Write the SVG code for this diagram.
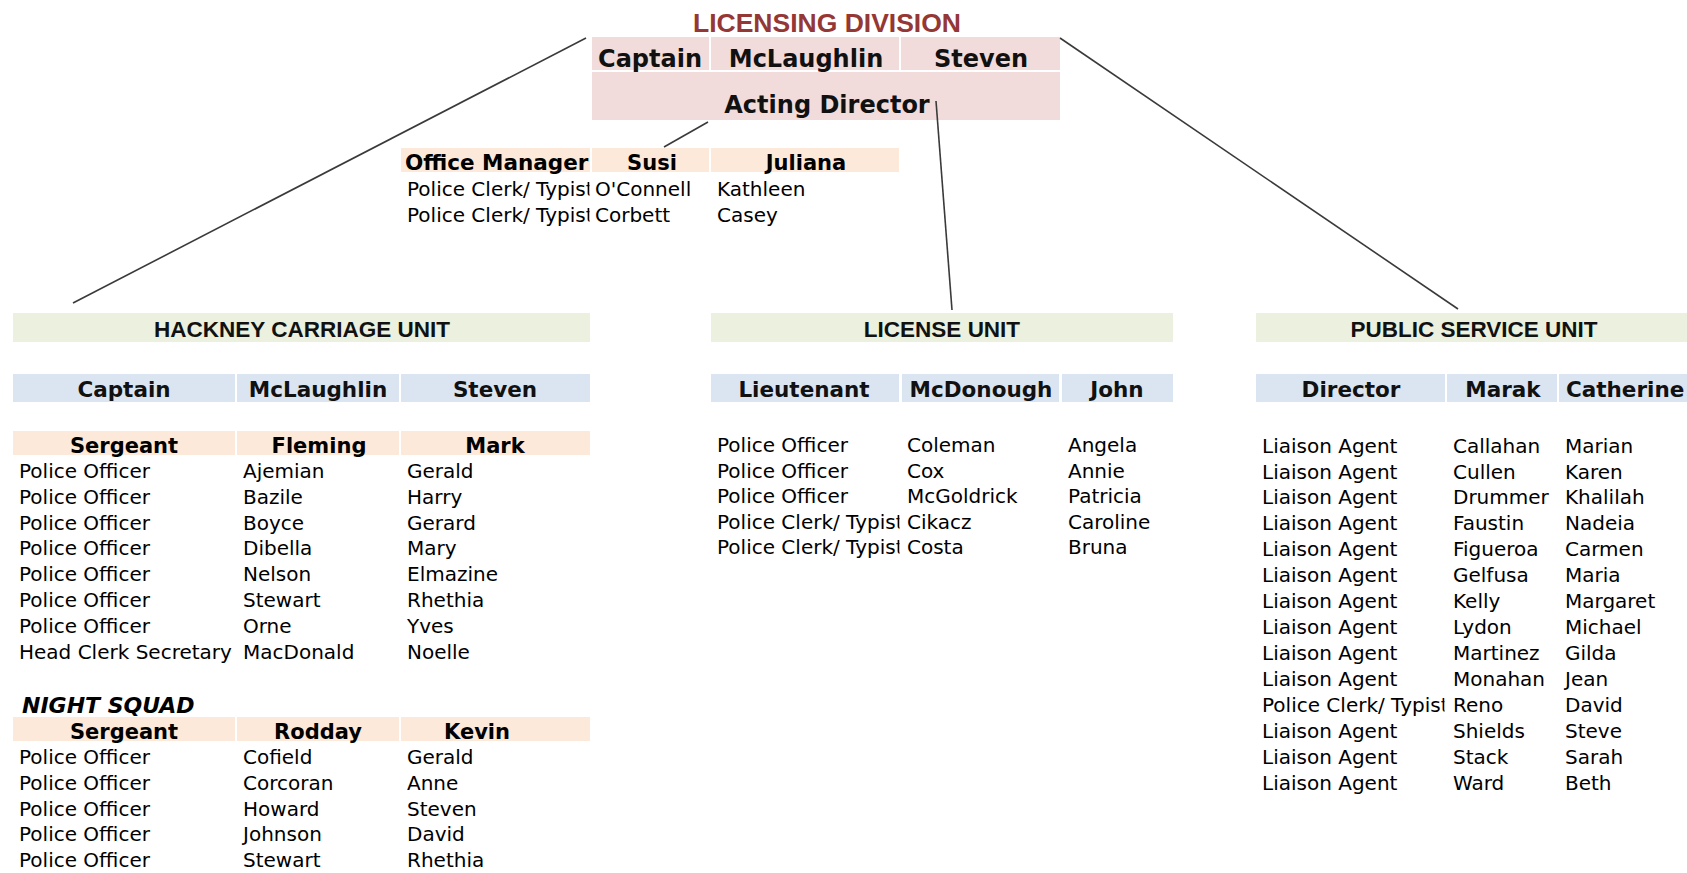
<svg xmlns="http://www.w3.org/2000/svg" width="1687" height="873" viewBox="0 0 1687 873">
<style>
.title{font-family:"Liberation Sans",Arial,sans-serif;font-weight:bold;font-size:26.5px;fill:#953735;text-anchor:middle}
.hdr{font-family:"Liberation Sans",Arial,sans-serif;font-weight:bold;font-size:22.5px;fill:#111;text-anchor:middle}
.top{font-family:"DejaVu Sans",sans-serif;font-weight:bold;font-size:24px;fill:#111;text-anchor:middle}
.b{font-family:"DejaVu Sans",sans-serif;font-weight:bold;font-size:21.5px;fill:#111;text-anchor:middle}
.p{font-family:"DejaVu Sans",sans-serif;font-weight:bold;font-size:21px;fill:#000;text-anchor:middle}
.t{font-family:"DejaVu Sans",sans-serif;font-size:20px;fill:#000}
.ns{font-family:"DejaVu Sans",sans-serif;font-weight:bold;font-style:oblique;font-size:22px;fill:#000}
.pink{fill:#F2DCDB}
.peach{fill:#FDE9D9}
.green{fill:#EBF1DE}
.blue{fill:#DBE5F1}
.conn line{stroke:#3a3a3a;stroke-width:1.6;fill:none}
</style>
<defs>
<clipPath id="cOff"><rect x="401" y="175" width="188.5" height="60"/></clipPath>
<clipPath id="cLic"><rect x="711" y="430" width="188.5" height="140"/></clipPath>
<clipPath id="cPub"><rect x="1256" y="690" width="188.5" height="30"/></clipPath>
</defs>
<rect width="1687" height="873" fill="#fff"/>

<g id="licensing-division">
<text class="title" x="827" y="32">LICENSING DIVISION</text>
<rect class="pink" x="592" y="37" width="117" height="33"/>
<rect class="pink" x="711" y="37" width="188" height="33"/>
<rect class="pink" x="901" y="37" width="159" height="33"/>
<rect class="pink" x="592" y="72" width="468" height="48"/>
<text class="top" x="650" y="67">Captain</text>
<text class="top" x="806" y="67">McLaughlin</text>
<text class="top" x="981" y="67">Steven</text>
<text class="top" x="827" y="113">Acting Director</text>
</g>

<g id="office-manager">
<rect class="peach" x="401" y="148" width="189" height="24"/>
<rect class="peach" x="592" y="148" width="117" height="24"/>
<rect class="peach" x="711" y="148" width="188" height="24"/>
<text class="p" x="405" y="170" style="text-anchor:start;font-size:21.5px">Office Manager</text>
<text class="p" x="652" y="170">Susi</text>
<text class="p" x="806" y="170">Juliana</text>
<g clip-path="url(#cOff)">
<text class="t" x="407" y="196">Police Clerk/ Typist</text>
<text class="t" x="407" y="222">Police Clerk/ Typist</text>
</g>
<text class="t" x="595" y="196">O'Connell</text>
<text class="t" x="717" y="196">Kathleen</text>
<text class="t" x="595" y="222">Corbett</text>
<text class="t" x="717" y="222">Casey</text>
</g>

<g id="hackney-carriage-unit">
<rect class="green" x="13" y="313" width="577" height="29"/>
<text class="hdr" x="302" y="337">HACKNEY CARRIAGE UNIT</text>
<rect class="blue" x="13" y="374" width="222" height="28"/>
<rect class="blue" x="237" y="374" width="162" height="28"/>
<rect class="blue" x="401" y="374" width="189" height="28"/>
<text class="b" x="124" y="397">Captain</text>
<text class="b" x="318" y="397">McLaughlin</text>
<text class="b" x="495" y="397">Steven</text>
<rect class="peach" x="13" y="431" width="222" height="24"/>
<rect class="peach" x="237" y="431" width="162" height="24"/>
<rect class="peach" x="401" y="431" width="189" height="24"/>
<text class="p" x="124" y="453">Sergeant</text>
<text class="p" x="319" y="453">Fleming</text>
<text class="p" x="495" y="453">Mark</text>
<text class="t" x="19" y="478">Police Officer</text><text class="t" x="243" y="478">Ajemian</text><text class="t" x="407" y="478">Gerald</text>
<text class="t" x="19" y="504">Police Officer</text><text class="t" x="243" y="504">Bazile</text><text class="t" x="407" y="504">Harry</text>
<text class="t" x="19" y="530">Police Officer</text><text class="t" x="243" y="530">Boyce</text><text class="t" x="407" y="530">Gerard</text>
<text class="t" x="19" y="555">Police Officer</text><text class="t" x="243" y="555">Dibella</text><text class="t" x="407" y="555">Mary</text>
<text class="t" x="19" y="581">Police Officer</text><text class="t" x="243" y="581">Nelson</text><text class="t" x="407" y="581">Elmazine</text>
<text class="t" x="19" y="607">Police Officer</text><text class="t" x="243" y="607">Stewart</text><text class="t" x="407" y="607">Rhethia</text>
<text class="t" x="19" y="633">Police Officer</text><text class="t" x="243" y="633">Orne</text><text class="t" x="407" y="633">Yves</text>
<text class="t" x="19" y="659">Head Clerk Secretary</text><text class="t" x="243" y="659">MacDonald</text><text class="t" x="407" y="659">Noelle</text>
</g>

<g id="night-squad">
<text class="ns" x="22" y="713">NIGHT SQUAD</text>
<rect class="peach" x="13" y="717" width="222" height="24"/>
<rect class="peach" x="237" y="717" width="162" height="24"/>
<rect class="peach" x="401" y="717" width="189" height="24"/>
<text class="p" x="124" y="739">Sergeant</text>
<text class="p" x="318" y="739">Rodday</text>
<text class="p" x="477" y="739">Kevin</text>
<text class="t" x="19" y="764">Police Officer</text><text class="t" x="243" y="764">Cofield</text><text class="t" x="407" y="764">Gerald</text>
<text class="t" x="19" y="790">Police Officer</text><text class="t" x="243" y="790">Corcoran</text><text class="t" x="407" y="790">Anne</text>
<text class="t" x="19" y="816">Police Officer</text><text class="t" x="243" y="816">Howard</text><text class="t" x="407" y="816">Steven</text>
<text class="t" x="19" y="841">Police Officer</text><text class="t" x="243" y="841">Johnson</text><text class="t" x="407" y="841">David</text>
<text class="t" x="19" y="867">Police Officer</text><text class="t" x="243" y="867">Stewart</text><text class="t" x="407" y="867">Rhethia</text>
</g>

<g id="license-unit">
<rect class="green" x="711" y="313" width="462" height="29"/>
<text class="hdr" x="942" y="337">LICENSE UNIT</text>
<rect class="blue" x="711" y="374" width="188" height="28"/>
<rect class="blue" x="902" y="374" width="157" height="28"/>
<rect class="blue" x="1062" y="374" width="111" height="28"/>
<text class="b" x="804" y="397">Lieutenant</text>
<text class="b" x="981" y="397">McDonough</text>
<text class="b" x="1117" y="397">John</text>
<g clip-path="url(#cLic)">
<text class="t" x="717" y="452">Police Officer</text>
<text class="t" x="717" y="477.5">Police Officer</text>
<text class="t" x="717" y="503">Police Officer</text>
<text class="t" x="717" y="528.5">Police Clerk/ Typist</text>
<text class="t" x="717" y="554">Police Clerk/ Typist</text>
</g>
<text class="t" x="907" y="452">Coleman</text><text class="t" x="1068" y="452">Angela</text>
<text class="t" x="907" y="477.5">Cox</text><text class="t" x="1068" y="477.5">Annie</text>
<text class="t" x="907" y="503">McGoldrick</text><text class="t" x="1068" y="503">Patricia</text>
<text class="t" x="907" y="528.5">Cikacz</text><text class="t" x="1068" y="528.5">Caroline</text>
<text class="t" x="907" y="554">Costa</text><text class="t" x="1068" y="554">Bruna</text>
</g>

<g id="public-service-unit">
<rect class="green" x="1256" y="313" width="431" height="29"/>
<text class="hdr" x="1474" y="337">PUBLIC SERVICE UNIT</text>
<rect class="blue" x="1256" y="374" width="189" height="28"/>
<rect class="blue" x="1447" y="374" width="110" height="28"/>
<rect class="blue" x="1559" y="374" width="128" height="28"/>
<text class="b" x="1351" y="397">Director</text>
<text class="b" x="1503" y="397">Marak</text>
<text class="b" x="1566" y="397" style="text-anchor:start">Catherine</text>
<text class="t" x="1262" y="452.5">Liaison Agent</text><text class="t" x="1453" y="452.5">Callahan</text><text class="t" x="1565" y="452.5">Marian</text>
<text class="t" x="1262" y="478.5">Liaison Agent</text><text class="t" x="1453" y="478.5">Cullen</text><text class="t" x="1565" y="478.5">Karen</text>
<text class="t" x="1262" y="504.4">Liaison Agent</text><text class="t" x="1453" y="504.4">Drummer</text><text class="t" x="1565" y="504.4">Khalilah</text>
<text class="t" x="1262" y="530.4">Liaison Agent</text><text class="t" x="1453" y="530.4">Faustin</text><text class="t" x="1565" y="530.4">Nadeia</text>
<text class="t" x="1262" y="556.3">Liaison Agent</text><text class="t" x="1453" y="556.3">Figueroa</text><text class="t" x="1565" y="556.3">Carmen</text>
<text class="t" x="1262" y="582.3">Liaison Agent</text><text class="t" x="1453" y="582.3">Gelfusa</text><text class="t" x="1565" y="582.3">Maria</text>
<text class="t" x="1262" y="608.2">Liaison Agent</text><text class="t" x="1453" y="608.2">Kelly</text><text class="t" x="1565" y="608.2">Margaret</text>
<text class="t" x="1262" y="634.2">Liaison Agent</text><text class="t" x="1453" y="634.2">Lydon</text><text class="t" x="1565" y="634.2">Michael</text>
<text class="t" x="1262" y="660.1">Liaison Agent</text><text class="t" x="1453" y="660.1">Martinez</text><text class="t" x="1565" y="660.1">Gilda</text>
<text class="t" x="1262" y="686.1">Liaison Agent</text><text class="t" x="1453" y="686.1">Monahan</text><text class="t" x="1565" y="686.1">Jean</text>
<g clip-path="url(#cPub)"><text class="t" x="1262" y="712">Police Clerk/ Typist</text></g><text class="t" x="1453" y="712">Reno</text><text class="t" x="1565" y="712">David</text>
<text class="t" x="1262" y="738">Liaison Agent</text><text class="t" x="1453" y="738">Shields</text><text class="t" x="1565" y="738">Steve</text>
<text class="t" x="1262" y="763.9">Liaison Agent</text><text class="t" x="1453" y="763.9">Stack</text><text class="t" x="1565" y="763.9">Sarah</text>
<text class="t" x="1262" y="789.9">Liaison Agent</text><text class="t" x="1453" y="789.9">Ward</text><text class="t" x="1565" y="789.9">Beth</text>
</g>

<g id="connectors" class="conn">
<line x1="586" y1="38" x2="73" y2="303"/>
<line x1="1060" y1="38" x2="1458" y2="309"/>
<line x1="708" y1="122" x2="664" y2="147"/>
<line x1="936" y1="101" x2="952" y2="310"/>
</g>
</svg>
